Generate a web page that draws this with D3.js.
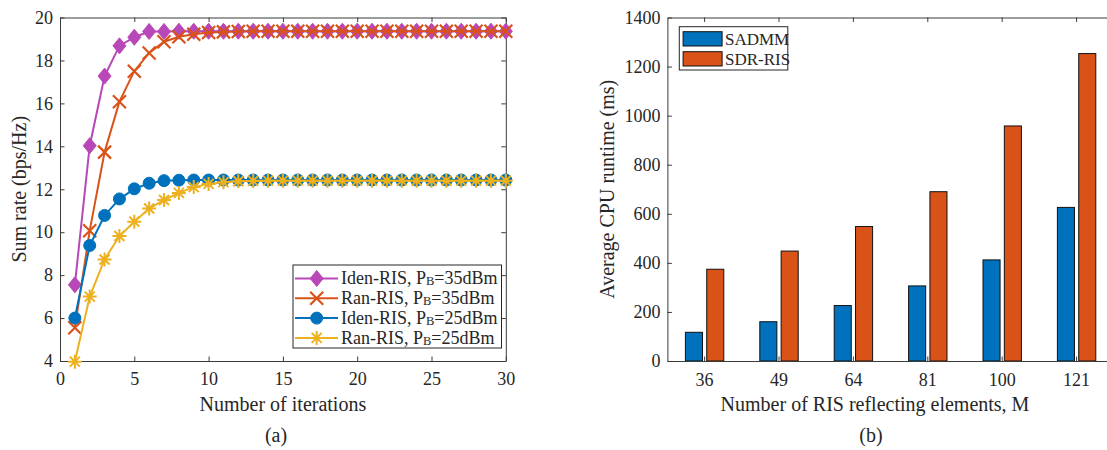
<!DOCTYPE html>
<html><head><meta charset="utf-8">
<script src="https://cdn.jsdelivr.net/npm/d3@7"></script>
<style>
html,body{margin:0;padding:0;background:#fff;}
svg{display:block;font-family:"Liberation Serif","Times New Roman",serif;}
</style></head>
<body>
<svg id="chart" width="1107" height="450"></svg>
<script>
// ---------- Data: (a) sum rate vs iterations ----------
const iterations = d3.range(1, 31);
const idenRis35 = [7.55, 14.03, 17.27, 18.68, 19.08, 19.35, 19.35, 19.36, 19.36, 19.36,
  19.36, 19.36, 19.36, 19.36, 19.36, 19.36, 19.36, 19.36, 19.36, 19.36,
  19.36, 19.36, 19.36, 19.36, 19.36, 19.36, 19.36, 19.36, 19.36, 19.36];
const ranRis35 = [5.55, 10.07, 13.73, 16.08, 17.5, 18.35, 18.87, 19.1, 19.22, 19.3,
  19.33, 19.35, 19.36, 19.36, 19.36, 19.36, 19.36, 19.36, 19.36, 19.36,
  19.36, 19.36, 19.36, 19.36, 19.36, 19.36, 19.36, 19.36, 19.36, 19.36];
const idenRis25 = [6.0, 9.38, 10.78, 11.55, 12.02, 12.28, 12.4, 12.42, 12.43, 12.43,
  12.43, 12.43, 12.43, 12.43, 12.43, 12.43, 12.43, 12.43, 12.43, 12.43,
  12.43, 12.43, 12.43, 12.43, 12.43, 12.43, 12.43, 12.43, 12.43, 12.43];
const ranRis25 = [3.97, 7.0, 8.73, 9.82, 10.49, 11.1, 11.5, 11.83, 12.1, 12.25,
  12.33, 12.37, 12.39, 12.4, 12.4, 12.4, 12.4, 12.4, 12.4, 12.4,
  12.4, 12.4, 12.4, 12.4, 12.4, 12.4, 12.4, 12.4, 12.4, 12.4];
const lineSeriesNames = ["Iden-RIS, P|B|=35dBm", "Ran-RIS, P|B|=35dBm", "Iden-RIS, P|B|=25dBm", "Ran-RIS, P|B|=25dBm"];
const xTicksA = [0, 5, 10, 15, 20, 25, 30];
const yTicksA = [4, 6, 8, 10, 12, 14, 16, 18, 20];

// ---------- Data: (b) CPU runtime ----------
const ris_elements = ["36", "49", "64", "81", "100", "121"];
const sadmm = [117, 160, 226, 306, 412, 626];
const sdrRis = [374, 448, 548, 690, 958, 1253];
const barSeriesNames = ["SADMM", "SDR-RIS"];
const yTicksB = [0, 200, 400, 600, 800, 1000, 1200, 1400];

const svg = d3.select("#chart");
const TXT = "#262626", AX = "#3a3a3a";
const colors = {mag: "#B847B8", ora: "#D95319", blu: "#0072BD", yel: "#EDB120"};

// ================= Panel (a) =================
const xA = d3.scaleLinear().domain([0, 30]).range([60, 505.8]);
const yA = d3.scaleLinear().domain([4, 20]).range([361, 17.5]);
const gA = svg.append("g");

function styleAxis(g, labels) {
  g.attr("font-family", null);
  g.select(".domain").attr("stroke", AX).attr("stroke-width", 1);
  g.selectAll(".tick line").attr("stroke", AX).attr("stroke-width", 1);
  g.selectAll(".tick text").attr("fill", TXT).style("font-size", "18px")
    .style("font-family", '"Liberation Serif",serif');
  if (!labels) g.selectAll(".tick text").remove();
}
const TK = -4.5;
const fmt = d3.format("d");
gA.append("g").attr("transform", `translate(0,${yA(4)})`)
  .call(d3.axisBottom(xA).tickValues(xTicksA).tickFormat(fmt).tickSizeInner(TK).tickSizeOuter(0).tickPadding(11))
  .call(g => styleAxis(g, true));
gA.append("g").attr("transform", `translate(0,${yA(20)})`)
  .call(d3.axisTop(xA).tickValues(xTicksA).tickSizeInner(TK).tickSizeOuter(0))
  .call(g => styleAxis(g, false));
gA.append("g").attr("transform", `translate(${xA(0)},0)`)
  .call(d3.axisLeft(yA).tickValues(yTicksA).tickFormat(fmt).tickSizeInner(TK).tickSizeOuter(0).tickPadding(7))
  .call(g => styleAxis(g, true));
gA.append("g").attr("transform", `translate(${xA(30)},0)`)
  .call(d3.axisRight(yA).tickValues(yTicksA).tickSizeInner(TK).tickSizeOuter(0))
  .call(g => styleAxis(g, false));

// marker drawing
function drawMarker(sel, type, color) {
  if (type === "diamond") {
    sel.append("path").attr("d", "M0,-8L6.5,0L0,8L-6.5,0Z").attr("fill", color).attr("stroke", color).attr("stroke-width", 1);
  } else if (type === "circle") {
    sel.append("circle").attr("r", 6).attr("fill", color).attr("stroke", color).attr("stroke-width", 1);
  } else if (type === "x") {
    sel.append("path").attr("d", "M-6.5,-6.5L6.5,6.5M-6.5,6.5L6.5,-6.5").attr("stroke", color).attr("stroke-width", 2.2).attr("fill", "none");
  } else if (type === "star") {
    sel.append("path").attr("d", "M0,-7L0,7M-7,0L7,0M-5,-5L5,5M-5,5L5,-5").attr("stroke", color).attr("stroke-width", 2).attr("fill", "none");
  }
}

const seriesA = [
  {vals: idenRis35, color: colors.mag, marker: "diamond"},
  {vals: ranRis35, color: colors.ora, marker: "x"},
  {vals: idenRis25, color: colors.blu, marker: "circle"},
  {vals: ranRis25, color: colors.yel, marker: "star"}
];
const line = d3.line().x((d, i) => xA(iterations[i])).y(d => yA(d));
seriesA.forEach(s => {
  const g = gA.append("g");
  g.append("path").attr("d", line(s.vals)).attr("fill", "none").attr("stroke", s.color).attr("stroke-width", 2);
  s.vals.forEach((v, i) => {
    const m = g.append("g").attr("transform", `translate(${xA(iterations[i])},${yA(v)})`);
    drawMarker(m, s.marker, s.color);
  });
});

// legend (a)
const legA = gA.append("g");
legA.append("rect").attr("x", 293).attr("y", 265).attr("width", 208.5).attr("height", 83)
  .attr("fill", "#fff").attr("stroke", "#262626").attr("stroke-width", 1);
seriesA.forEach((s, i) => {
  const cy = 278.5 + i * 19.8;
  legA.append("line").attr("x1", 295).attr("x2", 338).attr("y1", cy).attr("y2", cy)
    .attr("stroke", s.color).attr("stroke-width", 2);
  drawMarker(legA.append("g").attr("transform", `translate(316.7,${cy})`), s.marker, s.color);
  const parts = lineSeriesNames[i].split("|");
  const t = legA.append("text").attr("x", 341).attr("y", cy + 5.8).attr("fill", TXT).style("font-size", "18px");
  t.append("tspan").text(parts[0]);
  t.append("tspan").text(parts[1]).style("font-size", "12.5px").attr("dy", 1);
  t.append("tspan").text(parts[2]).attr("dy", -1);
});

gA.append("text").attr("x", (xA(0) + xA(30)) / 2).attr("y", 411).attr("text-anchor", "middle")
  .attr("fill", TXT).style("font-size", "20px").text("Number of iterations");
gA.append("text").attr("transform", `translate(26,${(yA(4) + yA(20)) / 2}) rotate(-90)`)
  .attr("text-anchor", "middle").attr("fill", TXT).style("font-size", "20px").text("Sum rate (bps/Hz)");
gA.append("text").attr("x", 276).attr("y", 442).attr("text-anchor", "middle")
  .attr("fill", TXT).style("font-size", "20px").text("(a)");

// ================= Panel (b) =================
const xB = d3.scaleBand().domain(ris_elements).range([667.4, 1113.8]).padding(0);
const bw = xB.bandwidth();
const xInner = d3.scaleBand().domain(barSeriesNames).range([-0.258 * bw, 0.258 * bw]).paddingInner(0.2);
const yB = d3.scaleLinear().domain([0, 1400]).range([361, 17.5]);
const gB = svg.append("g");

const barVals = {"SADMM": sadmm, "SDR-RIS": sdrRis};
const barColors = {"SADMM": colors.blu, "SDR-RIS": colors.ora};
barSeriesNames.forEach(name => {
  gB.append("g").selectAll("rect").data(barVals[name]).join("rect")
    .attr("x", (d, i) => xB(ris_elements[i]) + bw / 2 + xInner(name))
    .attr("width", xInner.bandwidth())
    .attr("y", d => yB(d))
    .attr("height", d => yB(0) - yB(d))
    .attr("fill", barColors[name]).attr("stroke", "#111").attr("stroke-width", 1);
});

gB.append("g").attr("transform", `translate(0,${yB(0)})`)
  .call(d3.axisBottom(xB).tickSizeInner(TK).tickSizeOuter(0).tickPadding(12))
  .call(g => styleAxis(g, true));
gB.append("g").attr("transform", `translate(0,${yB(1400)})`)
  .call(d3.axisTop(xB).tickSizeInner(TK).tickSizeOuter(0))
  .call(g => styleAxis(g, false));
gB.append("g").attr("transform", `translate(${xB.range()[0]},0)`)
  .call(d3.axisLeft(yB).tickValues(yTicksB).tickFormat(fmt).tickSizeInner(TK).tickSizeOuter(0).tickPadding(7))
  .call(g => styleAxis(g, true));

// legend (b)
const legB = gB.append("g");
legB.append("rect").attr("x", 679.3).attr("y", 26.7).attr("width", 108.5).attr("height", 43.3)
  .attr("fill", "#fff").attr("stroke", "#262626").attr("stroke-width", 1);
barSeriesNames.forEach((name, i) => {
  const y0 = 31.7 + i * 20;
  legB.append("rect").attr("x", 683.1).attr("y", y0).attr("width", 39).attr("height", 14.3)
    .attr("fill", barColors[name]).attr("stroke", "#111").attr("stroke-width", 1);
  legB.append("text").attr("x", 725).attr("y", y0 + 13).attr("fill", TXT).style("font-size", "17px").text(name);
});

gB.append("text").attr("x", 875).attr("y", 411).attr("text-anchor", "middle")
  .attr("fill", TXT).style("font-size", "20px").text("Number of RIS reflecting elements, M");
gB.append("text").attr("transform", `translate(614,${(yB(0) + yB(1400)) / 2}) rotate(-90)`)
  .attr("text-anchor", "middle").attr("fill", TXT).style("font-size", "20px").text("Average CPU runtime (ms)");
gB.append("text").attr("x", 871).attr("y", 442).attr("text-anchor", "middle")
  .attr("fill", TXT).style("font-size", "20px").text("(b)");
</script>
</body></html>
